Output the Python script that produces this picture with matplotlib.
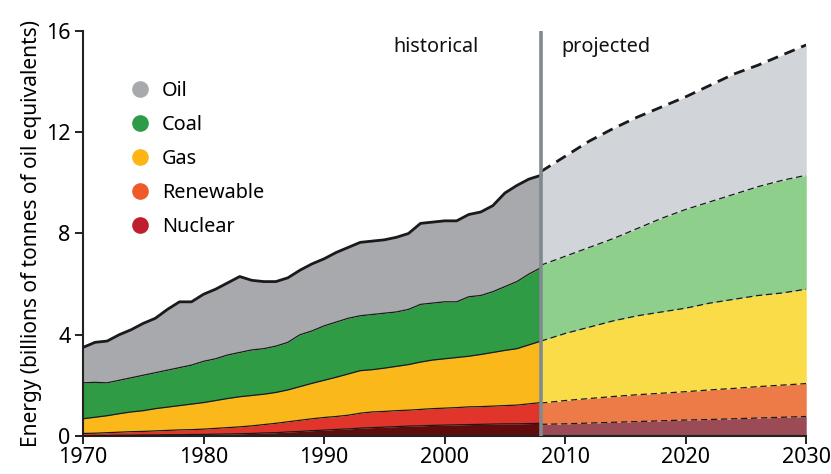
import numpy as np
import matplotlib
matplotlib.use("Agg")
import matplotlib.pyplot as plt
from matplotlib.lines import Line2D

plt.rcParams['font.family'] = ['Noto Sans', 'DejaVu Sans']

hist_years = list(range(1970, 2009))
nuclear_hist = [0.01,0.02,0.02,0.03,0.03,0.04,0.04,0.05,0.05,0.06,0.06,0.07,0.08,0.09,0.10,0.12,0.13,0.16,0.18,0.21,
                0.23,0.26,0.28,0.31,0.33,0.35,0.37,0.39,0.40,0.42,0.43,0.44,0.45,0.46,0.47,0.48,0.48,0.49,0.50]
renewable_hist = [0.09,0.09,0.11,0.12,0.14,0.14,0.16,0.17,0.19,0.19,0.21,0.23,0.25,0.27,0.30,0.33,0.37,0.40,0.44,0.47,
                  0.50,0.51,0.54,0.59,0.62,0.62,0.63,0.63,0.65,0.66,0.67,0.68,0.70,0.70,0.71,0.72,0.74,0.78,0.82]
gas_hist = [0.58,0.63,0.67,0.73,0.78,0.82,0.88,0.92,0.96,1.01,1.05,1.10,1.15,1.19,1.20,1.20,1.22,1.26,1.33,1.40,
            1.47,1.55,1.63,1.68,1.67,1.71,1.75,1.80,1.87,1.92,1.95,1.98,2.00,2.06,2.12,2.18,2.23,2.33,2.43]
coal_hist = [1.42,1.38,1.30,1.32,1.35,1.40,1.42,1.46,1.50,1.54,1.63,1.65,1.72,1.75,1.80,1.80,1.83,1.88,2.05,2.07,
             2.15,2.18,2.20,2.17,2.18,2.17,2.15,2.18,2.28,2.25,2.25,2.20,2.35,2.33,2.40,2.52,2.65,2.80,2.90]
oil_hist = [1.40,1.58,1.65,1.80,1.90,2.05,2.15,2.40,2.60,2.50,2.65,2.75,2.85,3.00,2.75,2.65,2.55,2.55,2.55,2.65,
            2.65,2.75,2.80,2.90,2.90,2.90,2.95,3.00,3.20,3.20,3.20,3.20,3.25,3.30,3.40,3.70,3.80,3.75,3.65]

proj_years = [2008, 2010, 2012, 2014, 2016, 2018, 2020, 2022, 2024, 2026, 2028, 2030]
nuclear_proj = [0.46, 0.48, 0.51, 0.54, 0.57, 0.60, 0.63, 0.65, 0.68, 0.71, 0.74, 0.77]
renewable_proj = [0.84, 0.92, 0.97, 1.02, 1.06, 1.09, 1.12, 1.17, 1.20, 1.24, 1.27, 1.30]
gas_proj = [2.45, 2.65, 2.82, 2.99, 3.12, 3.21, 3.30, 3.43, 3.52, 3.60, 3.64, 3.73]
coal_proj = [3.00, 3.05, 3.15, 3.25, 3.45, 3.70, 3.90, 4.00, 4.15, 4.30, 4.45, 4.50]
oil_proj = [3.70, 3.95, 4.20, 4.35, 4.40, 4.40, 4.45, 4.60, 4.75, 4.80, 4.95, 5.15]

labels = ["Nuclear", "Renewable", "Gas", "Coal", "Oil"]
hist_colors = ["#600c0c", "#e1342a", "#fbb81a", "#2f9b45", "#a7a9ac"]
proj_colors = ["#9a4b55", "#ec7b47", "#f9dc47", "#8ecf8b", "#d1d4d9"]
legend_colors = ["#be1e2d", "#f05a28", "#fdb515", "#2e9b47", "#a7a9ac"]

fig = plt.figure(figsize=(8.31, 4.74), dpi=100)
ax = fig.add_axes([0.0999, 0.0802, 0.8703, 0.8544])

def draw(years, series, colors, dashed):
    x = np.array(years, dtype=float)
    base = np.zeros(len(x))
    for i, (s, c) in enumerate(zip(series, colors)):
        top = base + np.array(s)
        ax.fill_between(x, base, top, color=c, lw=0, zorder=1)
        is_top = i == len(series) - 1
        lw = 2.0 if is_top else 0.9
        if dashed:
            ls = (0, (4, 2.5)) if is_top else (0, (5, 3))
        else:
            ls = '-'
        ax.plot(x, top, color="#1a1a1a", lw=lw, ls=ls, zorder=3, solid_joinstyle='round')
        base = top

draw(hist_years, [nuclear_hist, renewable_hist, gas_hist, coal_hist, oil_hist], hist_colors, False)
draw(proj_years, [nuclear_proj, renewable_proj, gas_proj, coal_proj, oil_proj], proj_colors, True)

ax.axvline(2008, color="#7f8b8f", lw=2.6, zorder=4)

ax.text(1999.3, 15.35, "historical", ha="center", va="center", fontsize=14.3, color="#111111")
ax.text(2009.7, 15.35, "projected", ha="left", va="center", fontsize=14.3, color="#111111")

ax.set_xlim(1970, 2030)
ax.set_ylim(0, 16)
ax.set_xticks([1970, 1980, 1990, 2000, 2010, 2020, 2030])
ax.set_yticks([0, 4, 8, 12, 16])
ax.tick_params(axis='both', direction='out', length=6, width=1.4, labelsize=15.5, color="#222222")
ax.tick_params(axis='x', pad=2)
ax.tick_params(axis='y', pad=3)
for s in ["top", "right"]:
    ax.spines[s].set_visible(False)
for s in ["left", "bottom"]:
    ax.spines[s].set_linewidth(1.5)
    ax.spines[s].set_color("#222222")
ax.set_ylabel("Energy (billions of tonnes of oil equivalents)", fontsize=15, labelpad=3)

handles = [Line2D([], [], marker='o', ls='none', markersize=12, markerfacecolor=c, markeredgecolor='none')
           for c in legend_colors[::-1]]
ax.legend(handles, labels[::-1], loc='upper left', bbox_to_anchor=(0.065, 0.876), frameon=False,
          fontsize=14.3, handlelength=1.0, handletextpad=0.6, labelspacing=0.70, borderaxespad=0,
          borderpad=0)

fig.savefig("out.png", dpi=100)
